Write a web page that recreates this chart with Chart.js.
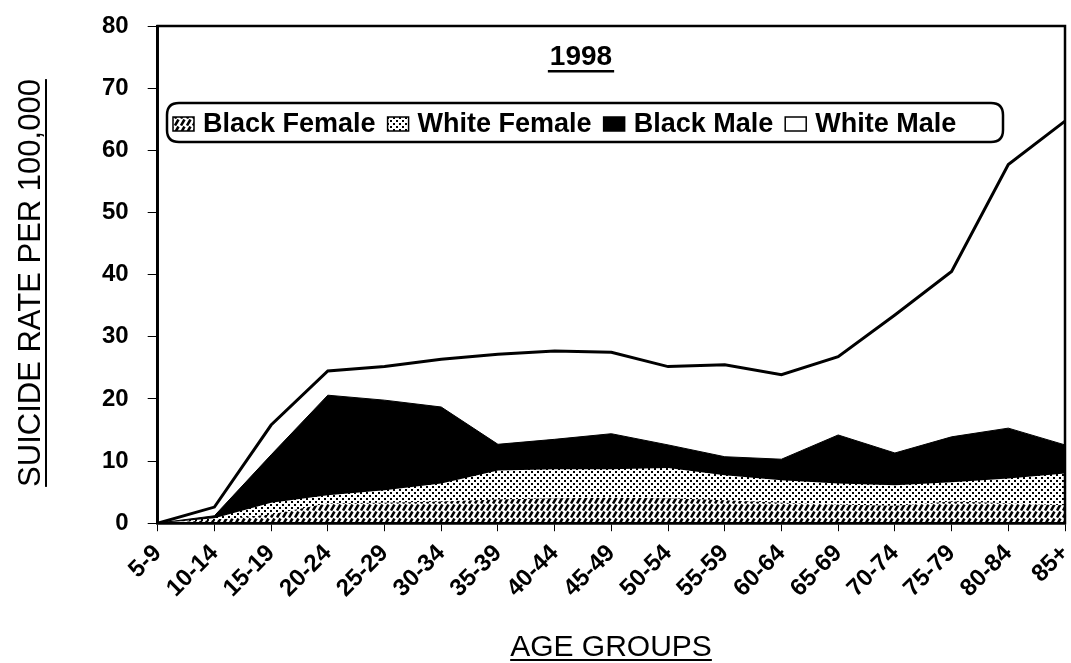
<html>
<head>
  <title>Suicide rate 1998</title>
  <script src="https://cdn.jsdelivr.net/npm/chart.js@4.4.0/dist/chart.umd.min.js"></script>
  <style>
  body { margin: 0; background: #fff; }
  #wrap { width: 1071px; height: 663px; position: relative; }
  </style>
</head>
<body>
  <div id="wrap"><canvas id="chart"></canvas></div>

  <script>
    var ageGroups = ['5-9','10-14','15-19','20-24','25-29','30-34','35-39','40-44','45-49',
                     '50-54','55-59','60-64','65-69','70-74','75-79','80-84','85+'];
    var blackFemale = [0, 0.5, 1.4, 3.2, 3.3, 3.5, 3.8, 4.0, 4.1, 4.0, 3.7, 3.3, 3.0, 2.8, 3.5, 3.2, 2.9];
    var whiteFemale = [0, 0.8, 3.3, 4.5, 5.3, 6.4, 8.5, 8.7, 8.7, 8.9, 7.7, 6.9, 6.4, 6.1, 6.6, 7.2, 8.0];
    var blackMale   = [0, 1.2, 11.0, 20.6, 19.8, 18.7, 12.7, 13.5, 14.4, 12.6, 10.7, 10.3, 14.2, 11.3, 13.9, 15.3, 12.6];
    var whiteMale   = [0, 2.6, 15.8, 24.5, 25.2, 26.4, 27.2, 27.7, 27.5, 25.2, 25.5, 23.9, 26.8, 33.5, 40.5, 57.7, 64.7];
    var seriesNames = ['Black Female', 'White Female', 'Black Male', 'White Male'];

    // fill patterns
    function hatchPattern() {
      var c = document.createElement('canvas');
      c.width = 6; c.height = 7;
      var g = c.getContext('2d');
      g.fillStyle = '#fff'; g.fillRect(0, 0, 6, 7);
      g.strokeStyle = '#000'; g.lineWidth = 2.6;
      g.beginPath();
      g.moveTo(1, 6.5); g.lineTo(4.5, 0.5);
      g.stroke();
      return g.createPattern(c, 'repeat');
    }
    function dotPattern() {
      var c = document.createElement('canvas');
      c.width = 6; c.height = 6;
      var g = c.getContext('2d');
      g.fillStyle = '#fff'; g.fillRect(0, 0, 6, 6);
      g.fillStyle = '#000';
      g.fillRect(0, 0, 2, 2);
      g.fillRect(3, 3, 2, 2);
      return g.createPattern(c, 'repeat');
    }
    var fills = [hatchPattern(), dotPattern(), '#000', '#fff'];

    var frame = {
      id: 'frame',
      afterDraw: function(chart) {
        var a = chart.chartArea, ctx = chart.ctx;
        ctx.save();
        ctx.strokeStyle = '#000';
        ctx.lineWidth = 2.5;
        ctx.strokeRect(a.left, a.top, a.right - a.left, a.bottom - a.top);

        // title
        ctx.fillStyle = '#000';
        ctx.font = 'bold 28px "Liberation Sans", Arial';
        ctx.textAlign = 'center';
        ctx.textBaseline = 'alphabetic';
        var tx = 581, ty = 65;
        ctx.fillText('1998', tx, ty);
        var w = ctx.measureText('1998').width;
        ctx.fillRect(tx - w / 2 - 2, ty + 5, w + 4, 2.5);

        // legend box
        var lx = 167, ly = 103, lw = 836, lh = 39, r = 12;
        ctx.fillStyle = '#fff';
        ctx.beginPath();
        ctx.moveTo(lx + r, ly);
        ctx.lineTo(lx + lw - r, ly);
        ctx.quadraticCurveTo(lx + lw, ly, lx + lw, ly + r);
        ctx.lineTo(lx + lw, ly + lh - r);
        ctx.quadraticCurveTo(lx + lw, ly + lh, lx + lw - r, ly + lh);
        ctx.lineTo(lx + r, ly + lh);
        ctx.quadraticCurveTo(lx, ly + lh, lx, ly + lh - r);
        ctx.lineTo(lx, ly + r);
        ctx.quadraticCurveTo(lx, ly, lx + r, ly);
        ctx.closePath();
        ctx.fill();
        ctx.lineWidth = 2.5;
        ctx.stroke();

        ctx.font = 'bold 27px "Liberation Sans", Arial';
        ctx.textAlign = 'left';
        var x = lx + 6;
        chart.data.datasets.forEach(function(ds, i) {
          ctx.fillStyle = fills[i];
          ctx.fillRect(x, ly + 14, 21, 14);
          ctx.lineWidth = 1.5;
          ctx.strokeRect(x, ly + 14, 21, 14);
          ctx.fillStyle = '#000';
          ctx.fillText(ds.label, x + 30, ly + 29);
          x += 30 + ctx.measureText(ds.label).width + 12;
        });

        // axis titles
        ctx.font = '30px "Liberation Sans", Arial';
        ctx.textAlign = 'center';
        var xt = 'AGE GROUPS';
        ctx.fillText(xt, 611, 656);
        var xw = ctx.measureText(xt).width;
        ctx.fillRect(611 - xw / 2, 659, xw, 2);

        ctx.font = '31px "Liberation Sans", Arial';
        ctx.translate(40, 283);
        ctx.rotate(-Math.PI / 2);
        var yt = 'SUICIDE RATE PER 100,000';
        ctx.fillText(yt, 0, 0);
        var yw = ctx.measureText(yt).width;
        ctx.fillRect(-yw / 2, 5, yw, 2);
        ctx.restore();
      }
    };

    var seriesData = [blackFemale, whiteFemale, blackMale, whiteMale];
    var datasets = seriesData.map(function(d, i) {
      return {
        label: seriesNames[i],
        data: d,
        fill: 'origin',
        backgroundColor: fills[i],
        borderColor: '#000',
        borderWidth: i === 3 ? 3 : (i === 2 ? 1 : 0),
        pointRadius: 0,
        tension: 0
      };
    });

    Chart.defaults.font.family = '"Liberation Sans", Arial';
    Chart.defaults.color = '#000';

    new Chart(document.getElementById('chart'), {
      type: 'line',
      data: { labels: ageGroups, datasets: datasets },
      plugins: [frame],
      options: {
        responsive: true,
        maintainAspectRatio: false,
        animation: false,
        layout: { padding: { left: 83, right: 6, top: 26, bottom: 52 } },
        plugins: {
          legend: { display: false },
          tooltip: { enabled: false }
        },
        scales: {
          x: {
            offset: false,
            afterFit: function(scale) { scale.paddingLeft = 0; scale.paddingRight = 0; },
            grid: { drawOnChartArea: false, color: '#000', tickLength: 8 },
            border: { color: '#000', width: 2.5 },
            ticks: {
              minRotation: 45, maxRotation: 45,
              font: { size: 24, weight: 'bold' },
              padding: 8
            }
          },
          y: {
            min: 0, max: 80,
            afterFit: function(scale) { scale.paddingTop = 0; scale.paddingBottom = 0; },
            grid: { drawOnChartArea: false, color: '#000', tickLength: 10 },
            border: { color: '#000', width: 2.5 },
            ticks: {
              stepSize: 10,
              font: { size: 24, weight: 'bold' },
              padding: 19
            }
          }
        }
      }
    });
  </script>
</body>
</html>
